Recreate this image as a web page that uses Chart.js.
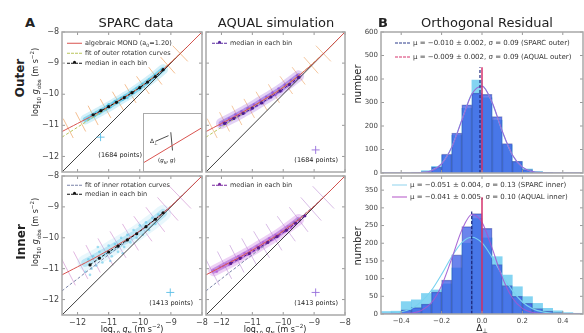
<!DOCTYPE html>
<html>
<head>
<meta charset="utf-8">
<script src="https://cdn.jsdelivr.net/npm/chart.js@4.4.1/dist/chart.umd.min.js"></script>
<style>
  body { margin:0; width:584px; height:333px; overflow:hidden; position:relative; background:#fff;
         font-family:"DejaVu Sans", sans-serif; color:#222; }
  canvas { position:absolute; }
  .t { position:absolute; white-space:nowrap; line-height:1; }
  .ctr { transform:translate(-50%,-50%); }
  .rot { transform:translate(-50%,-50%) rotate(-90deg); }
  .lg { position:absolute; white-space:nowrap; font-size:6.5px; line-height:1; transform:translateY(-50%); color:#333; }
  .sw { display:inline-block; width:15px; height:0; vertical-align:middle; margin-right:3px; position:relative; }
  .dot { position:absolute; left:6px; top:-2.5px; width:3px; height:3px; border-radius:50%; }
  sub, sup { font-size:70%; line-height:0; }
  .inset { position:absolute; left:143px; top:113px; width:57px; height:57px; background:#fff; border:1px solid #aaa; }
</style>
</head>
<body>

<canvas id="p1" width="174" height="156" style="left:38px;top:24px"></canvas>
<canvas id="p2" width="154" height="156" style="left:201px;top:24px"></canvas>
<canvas id="p3" width="174" height="165" style="left:38px;top:168px"></canvas>
<canvas id="p4" width="154" height="165" style="left:201px;top:168px"></canvas>
<canvas id="h1" width="225" height="157" style="left:359px;top:24px"></canvas>
<canvas id="h2" width="225" height="165" style="left:359px;top:168px"></canvas>

<div class="inset"><canvas id="ins" width="57" height="57" style="left:0;top:0"></canvas></div>

<!-- titles -->
<div class="t ctr" style="left:30px;top:22px;font-size:13px;font-weight:bold">A</div>
<div class="t ctr" style="left:136px;top:22px;font-size:13px">SPARC data</div>
<div class="t ctr" style="left:276px;top:22px;font-size:13px">AQUAL simulation</div>
<div class="t ctr" style="left:383px;top:22px;font-size:13px;font-weight:bold">B</div>
<div class="t ctr" style="left:487px;top:22px;font-size:13px">Orthogonal Residual</div>

<div class="t rot" style="left:20px;top:78px;font-size:12px;font-weight:bold">Outer</div>
<div class="t rot" style="left:36px;top:82px;font-size:8px">log<sub>10</sub> <i>g</i><sub>obs</sub> (m s<sup>−2</sup>)</div>
<div class="t rot" style="left:21px;top:242px;font-size:12px;font-weight:bold">Inner</div>
<div class="t rot" style="left:36px;top:232px;font-size:8px">log<sub>10</sub> <i>g</i><sub>obs</sub> (m s<sup>−2</sup>)</div>
<div class="t rot" style="left:358px;top:84px;font-size:10px">number</div>
<div class="t rot" style="left:358px;top:246px;font-size:10px">number</div>

<div class="t ctr" style="left:132px;top:330px;font-size:8px">log<sub>10</sub> <i>g</i><sub>N</sub> (m s<sup>−2</sup>)</div>
<div class="t ctr" style="left:275px;top:330px;font-size:8px">log<sub>10</sub> <i>g</i><sub>N</sub> (m s<sup>−2</sup>)</div>
<div class="t ctr" style="left:482px;top:328px;font-size:9px">Δ<sub>⊥</sub></div>

<!-- point counts -->
<div class="t" style="right:442px;top:152px;font-size:6.5px">(1684 points)</div>
<div class="t" style="right:246px;top:157px;font-size:6.5px">(1684 points)</div>
<div class="t" style="right:391px;top:300px;font-size:6.5px">(1413 points)</div>
<div class="t" style="right:246px;top:300px;font-size:6.5px">(1413 points)</div>

<!-- inset labels -->
<div class="t" style="left:150px;top:138px;font-size:6px">Δ<sub>⊥</sub></div>
<div class="t" style="left:158px;top:158px;font-size:5.5px">(<i>g</i><sub>N</sub>, <i>g</i>)</div>

<!-- legends -->
<div class="lg" style="left:67px;top:43px"><span class="sw" style="border-top:1px solid #d9534f"></span>algebraic MOND (a<sub>0</sub>=1.20)</div>
<div class="lg" style="left:67px;top:53px"><span class="sw" style="border-top:1px dashed #b9c45a"></span>fit of outer rotation curves</div>
<div class="lg" style="left:67px;top:63px"><span class="sw" style="border-top:1px dashed #111"><span class="dot" style="background:#111"></span></span>median in each bin</div>
<div class="lg" style="left:212px;top:43px"><span class="sw" style="border-top:1px dashed #5a2aa0"><span class="dot" style="background:#5a2aa0"></span></span>median in each bin</div>
<div class="lg" style="left:67px;top:185px"><span class="sw" style="border-top:1px dashed #7a83a8"></span>fit of inner rotation curves</div>
<div class="lg" style="left:67px;top:194px"><span class="sw" style="border-top:1px dashed #111"><span class="dot" style="background:#111"></span></span>median in each bin</div>
<div class="lg" style="left:212px;top:185px"><span class="sw" style="border-top:1px dashed #7a2aa0"><span class="dot" style="background:#7a2aa0"></span></span>median in each bin</div>

<div class="lg" style="left:395px;top:43px;font-size:7px"><span class="sw" style="border-top:1px dashed #2a3a8a"></span>μ = −0.010 ± 0.002, σ = 0.09 (SPARC outer)</div>
<div class="lg" style="left:395px;top:57px;font-size:7px"><span class="sw" style="border-top:1px dashed #d6336c"></span>μ = −0.009 ± 0.002, σ = 0.09 (AQUAL outer)</div>
<div class="lg" style="left:392px;top:185px;font-size:7px"><span class="sw" style="border-top:1px solid #8fd3ee"></span>μ = −0.051 ± 0.004, σ = 0.13 (SPARC inner)</div>
<div class="lg" style="left:392px;top:197px;font-size:7px"><span class="sw" style="border-top:1px solid #b455c8"></span>μ = −0.041 ± 0.005, σ = 0.10 (AQUAL inner)</div>

<script>
// ---- radial acceleration relation curves (log10 m/s^2) ----
var MOND_X = [-12.5, -12.25, -12, -11.75, -11.5, -11.25, -11, -10.75, -10.5, -10.25, -10, -9.75, -9.5, -9.25, -9, -8.75, -8.5, -8.25, -8];
var MOND_Y = [-11.20, -11.07, -10.94, -10.81, -10.68, -10.54, -10.40, -10.25, -10.10, -9.95, -9.78, -9.60, -9.41, -9.20, -8.98, -8.74, -8.50, -8.25, -8.00];
var OUTER_FIT_Y = [-11.38, -11.22, -11.06, -10.90, -10.74, -10.58, -10.42, -10.26, -10.10, -9.94, -9.77, -9.59, -9.40, -9.19, -8.97, -8.74, -8.50, -8.25, -8.00];
var INNER_FIT_Y = [-11.72, -11.52, -11.33, -11.13, -10.94, -10.74, -10.55, -10.36, -10.17, -9.97, -9.78, -9.58, -9.38, -9.18, -8.97, -8.74, -8.50, -8.25, -8.00];
var UNITY = [-12.5, -8];
var LOG_TICKS = [-12, -11, -10, -9, -8];
var ORTHO_X = [-12.3, -11.9, -11.5, -11.1, -10.7, -10.3, -9.9, -9.5, -9.1, -8.7];

// median in each bin
var SPARC_OUT_MED_X = [-11.5, -11.25, -11, -10.75, -10.5, -10.25, -10, -9.75, -9.5, -9.25];
var SPARC_OUT_MED_Y = [-10.66, -10.53, -10.40, -10.26, -10.11, -9.95, -9.79, -9.61, -9.43, -9.21];
var AQUAL_OUT_MED_X = [-11.9, -11.6, -11.3, -11, -10.7, -10.4, -10.1, -9.8, -9.5];
var AQUAL_OUT_MED_Y = [-10.94, -10.78, -10.62, -10.45, -10.28, -10.09, -9.90, -9.69, -9.46];
var SPARC_IN_MED_X = [-11.6, -11.3, -11, -10.7, -10.4, -10.1, -9.8, -9.5, -9.25];
var SPARC_IN_MED_Y = [-10.88, -10.66, -10.46, -10.27, -10.07, -9.87, -9.64, -9.40, -9.19];
var AQUAL_IN_MED_X = [-11.7, -11.4, -11.1, -10.8, -10.5, -10.2, -9.9, -9.6, -9.3];
var AQUAL_IN_MED_Y = [-10.83, -10.67, -10.51, -10.33, -10.15, -9.96, -9.76, -9.53, -9.29];

// point clouds (sampled by eye)
var SPARC_OUT_CLOUD = [[-11.65,-10.8],[-11.55,-10.68],[-11.45,-10.70],[-11.4,-10.6],[-11.3,-10.62],[-11.2,-10.5],[-11.1,-10.48],[-11.05,-10.38],[-11.0,-10.32],[-10.95,-10.42],[-10.85,-10.3],[-10.8,-10.22],[-10.7,-10.26],[-10.6,-10.12],[-10.55,-10.18],[-10.45,-10.05],[-10.4,-10.12],[-10.35,-10.03],[-10.3,-9.93],[-10.2,-9.95],[-10.1,-9.82],[-10.0,-9.84],[-9.95,-9.75],[-9.9,-9.68],[-9.8,-9.66],[-9.7,-9.53],[-9.6,-9.5],[-9.5,-9.38],[-9.4,-9.36],[-9.3,-9.22]];
var AQUAL_OUT_CLOUD = [[-12.05,-11.0],[-11.95,-10.9],[-11.85,-10.95],[-11.75,-10.78],[-11.65,-10.8],[-11.55,-10.65],[-11.45,-10.7],[-11.35,-10.55],[-11.25,-10.6],[-11.15,-10.45],[-11.05,-10.5],[-10.95,-10.33],[-10.85,-10.37],[-10.75,-10.2],[-10.65,-10.28],[-10.55,-10.08],[-10.45,-10.12],[-10.35,-9.95],[-10.25,-10.02],[-10.15,-9.82],[-10.05,-9.9],[-9.95,-9.7],[-9.85,-9.72],[-9.75,-9.55],[-9.65,-9.6],[-9.55,-9.4]];
var SPARC_IN_CLOUD = [[-11.75,-11.1],[-11.65,-10.7],[-11.6,-11.2],[-11.55,-11.0],[-11.5,-10.6],[-11.4,-10.9],[-11.35,-10.3],[-11.3,-10.45],[-11.2,-10.8],[-11.1,-10.5],[-11.0,-10.25],[-10.95,-10.75],[-10.9,-10.6],[-10.8,-10.2],[-10.7,-10.45],[-10.6,-10.0],[-10.55,-10.5],[-10.5,-10.3],[-10.4,-9.9],[-10.3,-10.15],[-10.2,-9.75],[-10.1,-10.0],[-10.0,-9.6],[-9.9,-9.9],[-9.8,-9.5],[-9.7,-9.75],[-9.6,-9.35],[-9.5,-9.55],[-9.4,-9.25]];
var AQUAL_IN_CLOUD = [[-12.25,-11.05],[-12.15,-11.1],[-12.05,-10.95],[-11.95,-10.92],[-11.85,-10.85],[-11.75,-10.88],[-11.65,-10.75],[-11.55,-10.72],[-11.45,-10.6],[-11.35,-10.65],[-11.25,-10.5],[-11.15,-10.55],[-11.05,-10.38],[-10.95,-10.42],[-10.85,-10.28],[-10.75,-10.3],[-10.65,-10.15],[-10.55,-10.18],[-10.45,-10.02],[-10.35,-10.06],[-10.25,-9.9],[-10.15,-9.95],[-10.05,-9.78],[-9.95,-9.8],[-9.85,-9.64],[-9.75,-9.68],[-9.65,-9.5]];

// ---- orthogonal residual histograms (bin width 0.05) ----
var BIN_CENTERS = [-0.475, -0.425, -0.375, -0.325, -0.275, -0.225, -0.175, -0.125, -0.075, -0.025, 0.025, 0.075, 0.125, 0.175, 0.225, 0.275, 0.325, 0.375, 0.425, 0.475];
var SPARC_OUT_N = [0, 0, 0, 3, 10, 28, 75, 160, 275, 395, 320, 225, 120, 48, 17, 6, 2, 0, 0, 0];
var AQUAL_OUT_N = [0, 0, 0, 0, 6, 25, 80, 170, 290, 340, 335, 240, 125, 50, 15, 5, 2, 0, 0, 0];
var SPARC_IN_N = [7, 8, 35, 40, 58, 68, 85, 130, 200, 270, 215, 162, 110, 77, 49, 30, 16, 9, 4, 2];
var AQUAL_IN_N = [2, 3, 12, 18, 28, 62, 96, 167, 247, 284, 242, 140, 80, 50, 30, 15, 8, 4, 2, 1];

var FIT_X = [-0.5, -0.45, -0.4, -0.35, -0.3, -0.25, -0.2, -0.15, -0.1, -0.05, 0, 0.05, 0.1, 0.15, 0.2, 0.25, 0.3, 0.35, 0.4, 0.45, 0.5];
var SPARC_OUT_FIT = [0, 0, 0, 0.3, 2, 11, 40, 111, 226, 338, 371, 299, 177, 77, 25, 6, 1, 0, 0, 0, 0];
var AQUAL_OUT_FIT = [0, 0, 0, 0.3, 2, 10, 39, 109, 224, 336, 369, 301, 179, 78, 25, 6, 1, 0, 0, 0, 0];
var SPARC_IN_FIT = [0.6, 2, 6, 15, 35, 67, 112, 162, 202, 217, 201, 160, 110, 66, 34, 15, 6, 2, 0.5, 0.1, 0];
var AQUAL_IN_FIT = [0, 0, 0.5, 2.4, 10, 32, 80, 156, 237, 281, 259, 186, 104, 46, 16, 4, 1, 0, 0, 0, 0];

var HIST_X_TICKS = [-0.4, -0.2, 0, 0.2, 0.4];
var OUT_Y_TICKS = [0, 100, 200, 300, 400, 500, 600];
var IN_Y_TICKS = [0, 50, 100, 150, 200, 250, 300, 350];
var MEAN_SPARC = [-0.010, -0.051];
var LINE_TOP = [450, 330];
var MEAN_TOP = [450, 290];

// inset sketch
var INSET_CURVE_X = [0, 1];
var INSET_CURVE_Y = [0.15, 0.75];
var INSET_ARROW_X = [0.2, 0.43];
var INSET_ARROW_Y = [0.52, 0.62];
var INSET_PERP_X = [0.47, 0.5];
var INSET_PERP_Y = [0.68, 0.36];

Chart.defaults.font.family = '"DejaVu Sans", sans-serif';
Chart.defaults.animation = false;
Chart.defaults.events = [];
Chart.defaults.plugins.legend.display = false;
Chart.defaults.plugins.tooltip.enabled = false;

function xy(xs, ys) {
	return xs.map(function (x, i) { return { x: x, y: ys[i] }; });
}

function mondAt(x) {
	for (var i = 0; i < MOND_X.length - 1; i++) {
		if (x <= MOND_X[i + 1]) {
			var m = (MOND_Y[i + 1] - MOND_Y[i]) / (MOND_X[i + 1] - MOND_X[i]);
			return { y: MOND_Y[i] + m * (x - MOND_X[i]), m: m };
		}
	}
	return { y: MOND_Y[MOND_Y.length - 1], m: 1 };
}

// short segments perpendicular to the MOND curve
function orthoSegments(half) {
	var out = [];
	ORTHO_X.forEach(function (x) {
		var c = mondAt(x), n = Math.sqrt(1 + c.m * c.m);
		out.push({ x: x + half * c.m / n, y: c.y - half / n });
		out.push({ x: x - half * c.m / n, y: c.y + half / n });
		out.push({ x: x, y: null });
	});
	return out;
}

function band(r) {
	return xy(MOND_X, MOND_Y).filter(function (p) { return p.x >= r[0] && p.x <= r[1]; });
}

function fmtLog(v) { return (v < 0 ? '\u2212' : '') + Math.abs(v); }
function fmtRes(v) { return (v < 0 ? '\u2212' : '') + Math.abs(v).toFixed(1); }
function fmtCount(v) { return String(v); }

// frame and inward tick marks like the original figure
var framePlugin = {
	id: 'frame',
	afterDraw: function (chart) {
		var a = chart.chartArea, ctx = chart.ctx, xs = chart.scales.x, ys = chart.scales.y;
		ctx.save();
		ctx.strokeStyle = '#999';
		ctx.lineWidth = 1;
		ctx.beginPath();
		xs.ticks.forEach(function (t) {
			var p = xs.getPixelForValue(t.value);
			ctx.moveTo(p, a.bottom); ctx.lineTo(p, a.bottom - 3);
			ctx.moveTo(p, a.top); ctx.lineTo(p, a.top + 3);
		});
		ys.ticks.forEach(function (t) {
			var p = ys.getPixelForValue(t.value);
			ctx.moveTo(a.left, p); ctx.lineTo(a.left + 3, p);
			ctx.moveTo(a.right, p); ctx.lineTo(a.right - 3, p);
		});
		ctx.stroke();
		ctx.strokeStyle = '#a8a8a8';
		ctx.lineWidth = 1.5;
		ctx.strokeRect(a.left, a.top, a.right - a.left, a.bottom - a.top);
		ctx.restore();
	}
};

function axisOpts(min, max, ticks, show, size, fmt, fs, horiz) {
	return {
		type: 'linear', min: min, max: max, offset: false,
		grid: { display: false, drawTicks: false, offset: false }, border: { display: false },
		afterBuildTicks: function (s) { s.ticks = ticks.map(function (v) { return { value: v }; }); },
		afterFit: function (s) { if (horiz) { s.height = size; } else { s.width = size; } },
		ticks: { display: show, autoSkip: false, maxRotation: 0, padding: 3, color: '#444', font: { size: fs }, callback: fmt }
	};
}

function makeLogPanel(id, o) {
	var datasets = [
		{ data: xy(o.medX, o.medY), showLine: true, borderColor: o.medColor, borderWidth: 1, borderDash: [3, 2],
		  pointRadius: 1.6, pointBackgroundColor: o.medColor, pointBorderWidth: 0, order: 0 },
		{ data: [{ x: o.cross[0], y: o.cross[1] }], pointStyle: 'cross', pointRadius: 4,
		  pointBorderColor: o.crossColor, pointBorderWidth: 1, order: 0 },
		{ data: xy(MOND_X, MOND_Y), showLine: true, borderColor: '#d9534f', borderWidth: 1, pointRadius: 0, tension: 0.3, order: 1 },
		{ data: xy(MOND_X, o.fitY), showLine: true, borderColor: o.fitColor, borderWidth: 1, borderDash: [3, 2], pointRadius: 0, tension: 0.3, order: 2 },
		{ data: xy(UNITY, UNITY), showLine: true, borderColor: '#2b2b2b', borderWidth: 0.9, pointRadius: 0, order: 3 },
		{ data: o.cloud.map(function (p) { return { x: p[0], y: p[1] }; }), pointRadius: 1.3,
		  pointBackgroundColor: o.dotColor, pointBorderWidth: 0, order: 4 },
		{ data: band(o.band), showLine: true, borderColor: o.bandCore, borderWidth: o.bandW / 2, pointRadius: 0,
		  tension: 0.3, borderCapStyle: 'round', order: 5 },
		{ data: band(o.band), showLine: true, borderColor: o.bandHalo, borderWidth: o.bandW, pointRadius: 0,
		  tension: 0.3, borderCapStyle: 'round', order: 6 },
		{ data: orthoSegments(o.tickHalf), showLine: true, borderColor: o.tickColor, borderWidth: 1, pointRadius: 0, order: 7 }
	];
	datasets.forEach(function (d) { d.clip = 0; });
	return new Chart(document.getElementById(id), {
		type: 'scatter',
		data: { datasets: datasets },
		options: {
			responsive: false,
			layout: { padding: { top: 8, right: 10, left: 0, bottom: 0 } },
			scales: {
				x: axisOpts(-12.5, -8, LOG_TICKS, o.xLabels, o.xH, fmtLog, 8, true),
				y: axisOpts(-12.5, -8, LOG_TICKS, o.yLabels, o.yW, fmtLog, 8, false)
			}
		},
		plugins: [framePlugin]
	});
}

function makeHist(id, o) {
	var datasets = [
		{ type: 'line', data: [{ x: 0, y: 0 }, { x: 0, y: LINE_TOP[o.k] }], borderColor: '#d6336c', borderWidth: 1.5, pointRadius: 0, order: 0 },
		{ type: 'line', data: [{ x: MEAN_SPARC[o.k], y: 0 }, { x: MEAN_SPARC[o.k], y: MEAN_TOP[o.k] }], borderColor: '#1f2a80',
		  borderDash: [3, 2], borderWidth: 1.2, pointRadius: 0, order: 0 },
		{ type: 'line', data: xy(FIT_X, o.aqualFit), borderColor: 'rgba(160,90,210,0.9)', borderWidth: 1.1, pointRadius: 0,
		  cubicInterpolationMode: 'monotone', order: 1 },
		{ type: 'line', data: xy(FIT_X, o.sparcFit), borderColor: 'rgba(120,210,240,1)', borderWidth: 1.1, pointRadius: 0,
		  cubicInterpolationMode: 'monotone', order: 1 },
		{ type: 'bar', data: xy(BIN_CENTERS, o.aqual), backgroundColor: 'rgba(50,85,228,0.72)', borderColor: 'rgba(30,40,140,0.5)',
		  borderWidth: 0.8, barPercentage: 1, categoryPercentage: 1, grouped: false, order: 2 },
		{ type: 'bar', data: xy(BIN_CENTERS, o.sparc), backgroundColor: 'rgba(110,205,240,0.85)', borderWidth: 0,
		  barPercentage: 1, categoryPercentage: 1, grouped: false, order: 3 }
	];
	datasets.forEach(function (d) { d.clip = 0; });
	return new Chart(document.getElementById(id), {
		type: 'bar',
		data: { datasets: datasets },
		options: {
			responsive: false,
			layout: { padding: { top: 8, right: 1, left: 0, bottom: 0 } },
			scales: {
				x: axisOpts(-0.5, 0.5, HIST_X_TICKS, o.xLabels, o.xH, fmtRes, 7, true),
				y: axisOpts(0, o.yMax, o.yTicks, true, 22, fmtCount, 7, false)
			}
		},
		plugins: [framePlugin]
	});
}

makeLogPanel('p1', {
	medX: SPARC_OUT_MED_X, medY: SPARC_OUT_MED_Y, medColor: '#111', fitY: OUTER_FIT_Y, fitColor: '#b9c45a',
	cloud: SPARC_OUT_CLOUD, dotColor: 'rgba(50,185,225,0.6)', band: [-11.75, -9.25], bandW: 10,
	bandCore: 'rgba(60,185,225,0.5)', bandHalo: 'rgba(110,205,235,0.3)', tickHalf: 0.35, tickColor: 'rgba(240,170,110,0.75)',
	cross: [-11.26, -11.38], crossColor: 'rgba(90,190,230,0.9)', xLabels: false, yLabels: true, xH: 8, yW: 24
});
makeLogPanel('p2', {
	medX: AQUAL_OUT_MED_X, medY: AQUAL_OUT_MED_Y, medColor: '#4b1d8f', fitY: OUTER_FIT_Y, fitColor: '#b9c45a',
	cloud: AQUAL_OUT_CLOUD, dotColor: 'rgba(130,60,210,0.55)', band: [-12.0, -9.5], bandW: 11,
	bandCore: 'rgba(120,60,210,0.45)', bandHalo: 'rgba(150,90,220,0.28)', tickHalf: 0.35, tickColor: 'rgba(240,175,120,0.7)',
	cross: [-8.95, -11.79], crossColor: 'rgba(150,110,220,0.9)', xLabels: false, yLabels: false, xH: 8, yW: 4
});
makeLogPanel('p3', {
	medX: SPARC_IN_MED_X, medY: SPARC_IN_MED_Y, medColor: '#111', fitY: INNER_FIT_Y, fitColor: '#7a83a8',
	cloud: SPARC_IN_CLOUD, dotColor: 'rgba(70,190,230,0.5)', band: [-11.75, -9.25], bandW: 16,
	bandCore: 'rgba(80,190,230,0.3)', bandHalo: 'rgba(110,205,235,0.16)', tickHalf: 0.5, tickColor: 'rgba(215,160,215,0.75)',
	cross: [-9.02, -11.77], crossColor: 'rgba(90,190,230,0.9)', xLabels: true, yLabels: true, xH: 18, yW: 24
});
makeLogPanel('p4', {
	medX: AQUAL_IN_MED_X, medY: AQUAL_IN_MED_Y, medColor: '#5a1d8f', fitY: INNER_FIT_Y, fitColor: '#7a83a8',
	cloud: AQUAL_IN_CLOUD, dotColor: 'rgba(170,70,210,0.55)', band: [-12.25, -9.5], bandW: 11,
	bandCore: 'rgba(150,60,200,0.45)', bandHalo: 'rgba(190,90,220,0.28)', tickHalf: 0.5, tickColor: 'rgba(200,160,220,0.7)',
	cross: [-8.95, -11.77], crossColor: 'rgba(150,110,220,0.9)', xLabels: true, yLabels: false, xH: 18, yW: 4
});

makeHist('h1', { k: 0, sparc: SPARC_OUT_N, aqual: AQUAL_OUT_N, sparcFit: SPARC_OUT_FIT, aqualFit: AQUAL_OUT_FIT,
	yMax: 600, yTicks: OUT_Y_TICKS, xLabels: false, xH: 8 });
makeHist('h2', { k: 1, sparc: SPARC_IN_N, aqual: AQUAL_IN_N, sparcFit: SPARC_IN_FIT, aqualFit: AQUAL_IN_FIT,
	yMax: 390, yTicks: IN_Y_TICKS, xLabels: true, xH: 19 });

new Chart(document.getElementById('ins'), {
	type: 'scatter',
	data: {
		datasets: [
			{ data: xy(INSET_CURVE_X, INSET_CURVE_Y), showLine: true, borderColor: '#d9534f', borderWidth: 1, pointRadius: 0 },
			{ data: xy(INSET_ARROW_X, INSET_ARROW_Y), showLine: true, borderColor: '#222', borderWidth: 0.8, pointRadius: 0 },
			{ data: xy(INSET_PERP_X, INSET_PERP_Y), showLine: true, borderColor: '#222', borderWidth: 0.8, pointRadius: 0 }
		]
	},
	options: {
		responsive: false,
		layout: { padding: 0 },
		scales: {
			x: { type: 'linear', min: 0, max: 1, display: false },
			y: { type: 'linear', min: 0, max: 1, display: false }
		}
	}
});
</script>
</body>
</html>
